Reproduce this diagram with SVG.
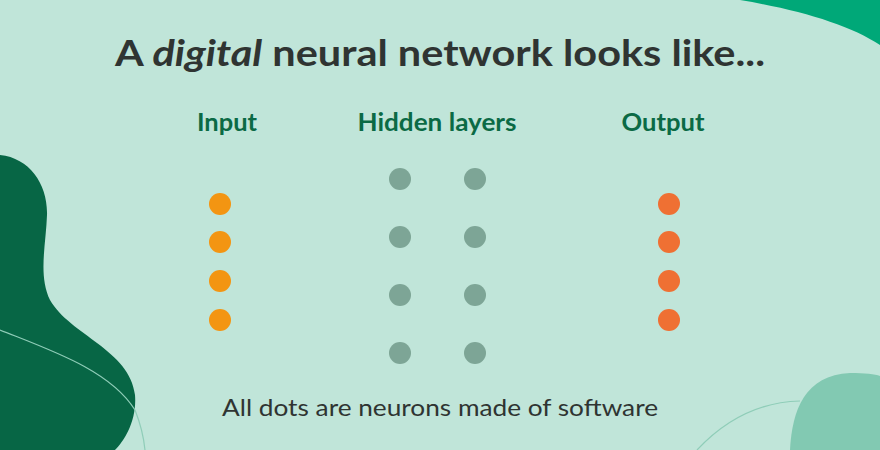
<svg xmlns="http://www.w3.org/2000/svg" width="880" height="450" viewBox="0 0 880 450">
<style>
.t{font-family:Lato,"Open Sans",sans-serif;text-anchor:middle}
.h{font-weight:700;font-size:24px;fill:#0b6a45}
.in{fill:#f39512}.hid{fill:#7da596}.out{fill:#ef7033}
</style>
<rect width="880" height="450" fill="#c0e5d9"/>
<path d="M0,155 C30,158 48,185 47,215 C46,245 38,275 50,300 C70,335 130,350 135,395 C137,420 125,440 115,450 L0,450 Z" fill="#076645"/>
<path d="M0,330 C50,350 110,370 135,410 Q143,430 145,450" fill="none" stroke="#8fcdb8" stroke-width="1.2"/>
<path d="M740,0 C800,10 850,25 880,45 L880,0 Z" fill="#00a878"/>
<path d="M790,450 C792,410 805,375 850,373 C865,373 875,374 880,376 L880,450 Z" fill="#82c9b2"/>
<path d="M697,450 C725,420 760,402 800,401" fill="none" stroke="#8fcdb8" stroke-width="1.2"/>
<text class="t" x="440" y="66" font-size="37" font-weight="700" fill="#2f3432" textLength="650" lengthAdjust="spacingAndGlyphs">A <tspan font-style="italic">digital</tspan> neural network looks like...</text>
<g id="input"><text class="t h" x="227" y="131" textLength="60" lengthAdjust="spacingAndGlyphs">Input</text>
<circle class="in" cx="220" cy="204" r="11"/><circle class="in" cx="220" cy="242" r="11"/><circle class="in" cx="220" cy="281" r="11"/><circle class="in" cx="220" cy="320" r="11"/></g>
<g id="hidden"><text class="t h" x="437" y="131" textLength="159" lengthAdjust="spacingAndGlyphs">Hidden layers</text>
<circle class="hid" cx="400" cy="179" r="11"/><circle class="hid" cx="400" cy="237" r="11"/><circle class="hid" cx="400" cy="295" r="11"/><circle class="hid" cx="400" cy="353" r="11"/>
<circle class="hid" cx="475" cy="179" r="11"/><circle class="hid" cx="475" cy="237" r="11"/><circle class="hid" cx="475" cy="295" r="11"/><circle class="hid" cx="475" cy="353" r="11"/></g>
<g id="output"><text class="t h" x="663" y="131" textLength="83" lengthAdjust="spacingAndGlyphs">Output</text>
<circle class="out" cx="669" cy="204" r="11"/><circle class="out" cx="669" cy="242" r="11"/><circle class="out" cx="669" cy="281" r="11"/><circle class="out" cx="669" cy="320" r="11"/></g>
<g id="connectors"/>
<text class="t" x="440" y="416" font-size="23" fill="#2f3432" textLength="436" lengthAdjust="spacingAndGlyphs">All dots are neurons made of software</text>
</svg>
